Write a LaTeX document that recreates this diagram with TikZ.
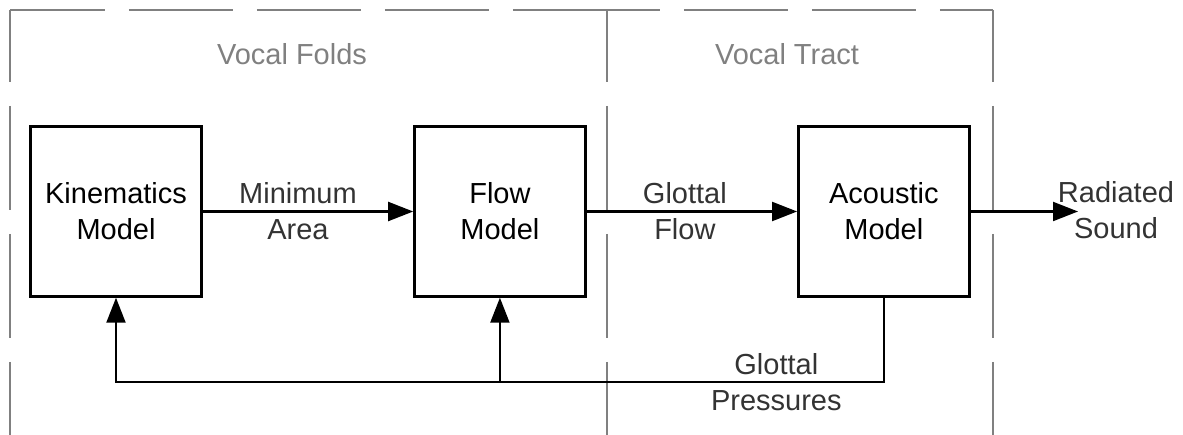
\documentclass[tikz,border=0pt]{standalone}
\usepackage{fontspec}
\setmainfont{Liberation Sans}
\usetikzlibrary{arrows.meta,positioning}
\definecolor{regiongray}{RGB}{128,128,128}
\definecolor{labelgray}{RGB}{51,51,51}

\begin{document}
\begin{tikzpicture}[
    x=0.02cm, y=-0.02cm,
    font=\fontsize{16.5pt}{20.5pt}\selectfont,
    node distance=4.21cm,
    block/.style={draw=black, line width=1.7pt, align=center, inner sep=2pt,
                  minimum width=3.41cm, minimum height=3.39cm},
    region/.style={draw=regiongray, line width=1.1pt, dash pattern=on 2.08cm off 0.48cm},
    regiontitle/.style={text=regiongray},
    lbl/.style={text=labelgray, align=center},
    flow/.style={-{Triangle[length=0.5cm,width=0.38cm]}, line width=1.2pt}
]
\useasboundingbox (0,0) rectangle (1183,435);

% dashed regions
\draw[region, dash phase=0.18cm] (10,10) -- (607,10);
\draw[region, dash phase=1.02cm] (607,10) -- (993,10);
\draw[region, dash phase=0.64cm] (10,10) -- (10,435);
\draw[region, dash phase=0.64cm] (607,10) -- (607,435);
\draw[region, dash phase=0.64cm] (993,10) -- (993,435);
\node[regiontitle] (folds) at (292,54) {Vocal Folds};
\node[regiontitle] (tract) at (787,54) {Vocal Tract};

% blocks
\node[block] (kin) at (116,211.5) {Kinematics\\Model};
\node[block, right=of kin] (flowm) {Flow\\Model};
\node[block, right=of flowm] (aco) {Acoustic\\Model};

\coordinate (out) at (1078,211.5);
\coordinate (bus) at (0,382);
\node[lbl] (snd) at (1116,210) {Radiated\\Sound};

\draw[flow] (kin) -- node[lbl, xshift=-0.2cm] {Minimum\\Area} (flowm);
\draw[flow] (flowm) -- node[lbl, xshift=-0.14cm] {Glottal\\Flow} (aco);
\draw[flow] (aco) -- (out);
\draw[flow] (aco.south) -- (aco.south |- bus)
    -- node[lbl, pos=0.14] {Glottal\\Pressures} (kin.south |- bus) -- (kin.south);
\draw[flow] (flowm.south |- bus) -- (flowm.south);
\end{tikzpicture}
\end{document}
